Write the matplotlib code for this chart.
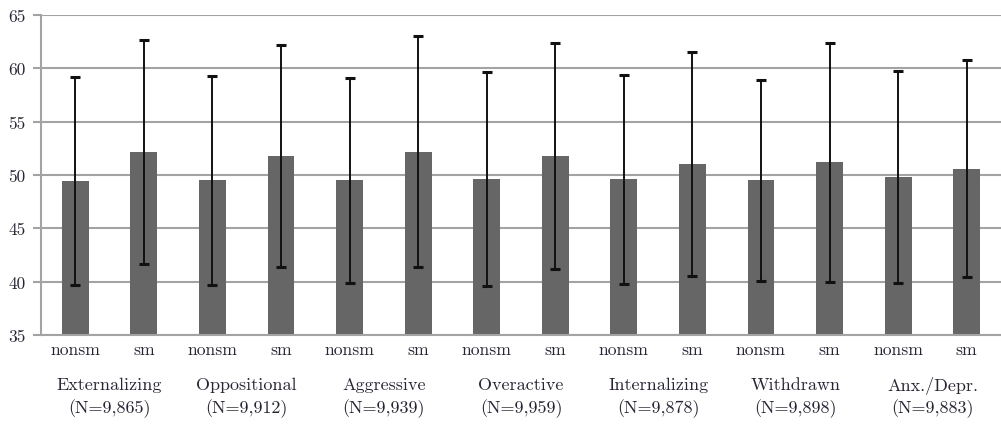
import numpy as np
import matplotlib
matplotlib.use("Agg")
from matplotlib import pyplot as plt
from matplotlib.transforms import blended_transform_factory

groups = ["Externalizing", "Oppositional", "Aggressive", "Overactive",
          "Internalizing", "Withdrawn", "Anx./Depr."]
group_n = ["(N=9,865)", "(N=9,912)", "(N=9,939)", "(N=9,959)",
           "(N=9,878)", "(N=9,898)", "(N=9,883)"]
bar_labels = ["nonsm", "sm"] * 7

# means and standard deviations, nonsm / sm alternating
means = [49.4, 52.2, 49.5, 51.8, 49.5, 52.2, 49.6, 51.8,
         49.6, 51.0, 49.5, 51.2, 49.8, 50.6]
sds = [9.75, 10.5, 9.8, 10.4, 9.6, 10.8, 10.05, 10.6,
       9.8, 10.5, 9.45, 11.2, 9.95, 10.2]
yticks = [35, 40, 45, 50, 55, 60, 65]

plt.rcParams['font.family'] = ['cmr10', 'DejaVu Serif']
plt.rcParams['axes.formatter.use_mathtext'] = True
txt = '#2a2438'
grid_c = '#a3a3a3'

fig = plt.figure(figsize=(10.01, 4.27), dpi=100)
ax = fig.add_axes([41/1001, 1-336/427, 1-41/1001, 320/427])

x = np.arange(len(means))
ax.bar(x, means, width=0.39, color='#666666', zorder=2)
ax.errorbar(x, means, yerr=sds, fmt='none', ecolor='#111111',
            elinewidth=1.4, capsize=3.5, capthick=2.2, zorder=3)

ax.set_ylim(35, 65)
ax.set_xlim(-0.5, len(means) - 0.5)
ax.set_yticks(yticks)
ax.set_yticklabels([str(t) for t in yticks], fontsize=12.5, color=txt)
ax.yaxis.grid(True, color=grid_c, linewidth=1.5, zorder=0)
ax.set_axisbelow(True)
ax.tick_params(axis='y', length=6, width=1.5, color=grid_c, pad=5)

ax.set_xticks(x)
ax.set_xticklabels(bar_labels, fontsize=12.7, color=txt)
ax.tick_params(axis='x', length=0, pad=5)

for s in ['top', 'right']:
    ax.spines[s].set_visible(False)
for s in ['left', 'bottom']:
    ax.spines[s].set_color(grid_c)
    ax.spines[s].set_linewidth(1.5)

# category names under each nonsm/sm pair
trans = blended_transform_factory(ax.transData, ax.transAxes)
for i, (g, n) in enumerate(zip(groups, group_n)):
    xc = 2 * i + 0.5
    ax.text(xc, -0.155, g, transform=trans, ha='center', va='center',
            fontsize=13, color=txt)
    ax.text(xc, -0.228, n, transform=trans, ha='center', va='center',
            fontsize=13, color=txt)

fig.savefig("out.png", dpi=100)
